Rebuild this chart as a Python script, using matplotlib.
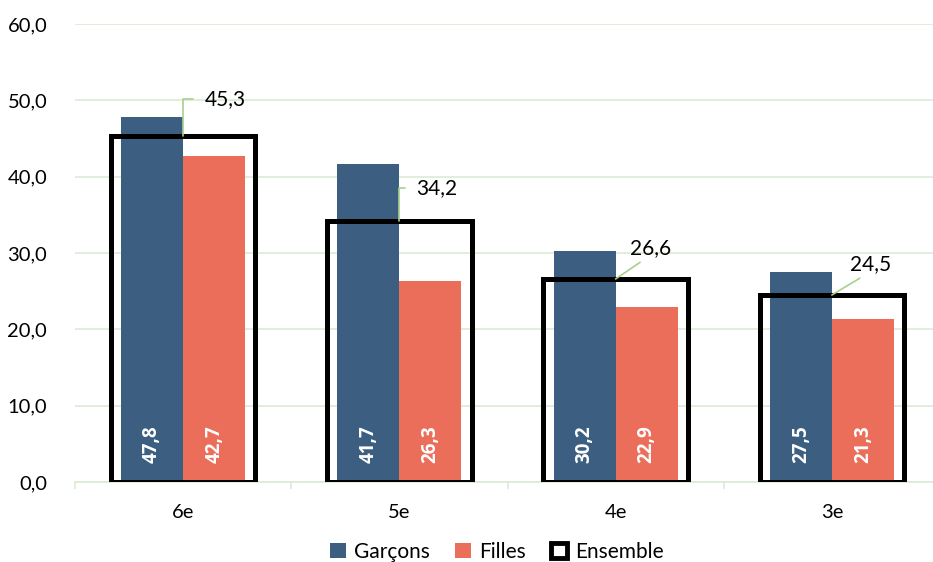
import matplotlib
matplotlib.use("Agg")
import matplotlib.pyplot as plt
from matplotlib.patches import Patch
from matplotlib.ticker import FuncFormatter, FixedLocator

categories = ["6e", "5e", "4e", "3e"]
garcons = [47.8, 41.7, 30.2, 27.5]
filles = [42.7, 26.3, 22.9, 21.3]
ensemble = [45.3, 34.2, 26.6, 24.5]
yticks = [0, 10, 20, 30, 40, 50, 60]

BLUE = "#3B5E81"
RED = "#EA6E5A"
GRID = "#DCEBD5"
LEADER = "#A8D08D"

plt.rcParams["font.family"] = ["Lato", "DejaVu Sans"]

fig = plt.figure(figsize=(9.33, 5.62), dpi=100)
W, H = 933, 562
ax = fig.add_axes([75 / W, 80 / H, 865 / W, 458 / H])

x = list(range(len(categories)))
bw = 0.287
xg = [i - bw / 2 for i in x]
xf = [i + bw / 2 for i in x]
ax.bar(xg, garcons, width=bw, color=BLUE, zorder=2)
ax.bar(xf, filles, width=bw, color=RED, zorder=2)
ax.bar(x, ensemble, width=0.668, facecolor="none", edgecolor="black",
       linewidth=3.6, zorder=3, joinstyle="miter")

for i in x:
    for xx, v in ((xg[i], garcons[i]), (xf[i], filles[i])):
        ax.text(xx, 4.9, f"{v:.1f}".replace(".", ","), rotation=90,
                ha="center", va="center", color="white", fontsize=13.5,
                fontweight="bold", family=["Open Sans", "DejaVu Sans"], zorder=4)

# ensemble labels with leader lines (offsets in pixels)
offs = [(42, 37), (37, 33), (35, 31), (39, 31)]
for i in x:
    dx, dy = offs[i]
    if i < 2:
        ap = dict(arrowstyle="-", color=LEADER, lw=1.2, shrinkA=6, shrinkB=0,
                  relpos=(0, 0.5),
                  connectionstyle="angle,angleA=0,angleB=90,rad=0")
    else:
        ap = dict(arrowstyle="-", color=LEADER, lw=1.2, shrinkA=2, shrinkB=0,
                  relpos=(0.4, 0))
    ax.annotate(f"{ensemble[i]:.1f}".replace(".", ","), xy=(i, ensemble[i]),
                xytext=(dx * 0.72, dy * 0.72), textcoords="offset points",
                ha="center", va="center", fontsize=15, color="black",
                arrowprops=ap, zorder=5)

ax.set_xlim(-0.5, len(categories) - 0.5)
ax.set_ylim(0, 60)
ax.set_yticks(yticks)
ax.yaxis.set_major_formatter(FuncFormatter(lambda v, p: f"{v:.1f}".replace(".", ",")))
ax.set_xticks(x)
ax.set_xticklabels(categories)
ax.xaxis.set_minor_locator(FixedLocator([i - 0.5 for i in range(len(categories) + 1)]))
ax.tick_params(axis="x", which="major", length=0, pad=16, labelsize=14.5)
ax.tick_params(axis="x", which="minor", length=5, color=GRID, width=1.2)
ax.tick_params(axis="y", length=0, pad=20, labelsize=14.5)
ax.grid(axis="y", color=GRID, linewidth=1.2, zorder=0)
ax.set_axisbelow(True)
for s in ["left", "right", "top"]:
    ax.spines[s].set_visible(False)
ax.spines["bottom"].set_color(GRID)
ax.spines["bottom"].set_linewidth(1.2)

handles = [Patch(facecolor=BLUE, label="Garçons"),
           Patch(facecolor=RED, label="Filles"),
           Patch(facecolor="white", edgecolor="black", linewidth=3.5, label="Ensemble")]
fig.legend(handles=handles, loc="center", bbox_to_anchor=(497 / W, 1 - 552 / H),
           ncol=3, frameon=False, fontsize=15, handlelength=0.75, handleheight=0.75,
           handletextpad=0.4, columnspacing=1.2)

fig.savefig("out.png", dpi=100)
